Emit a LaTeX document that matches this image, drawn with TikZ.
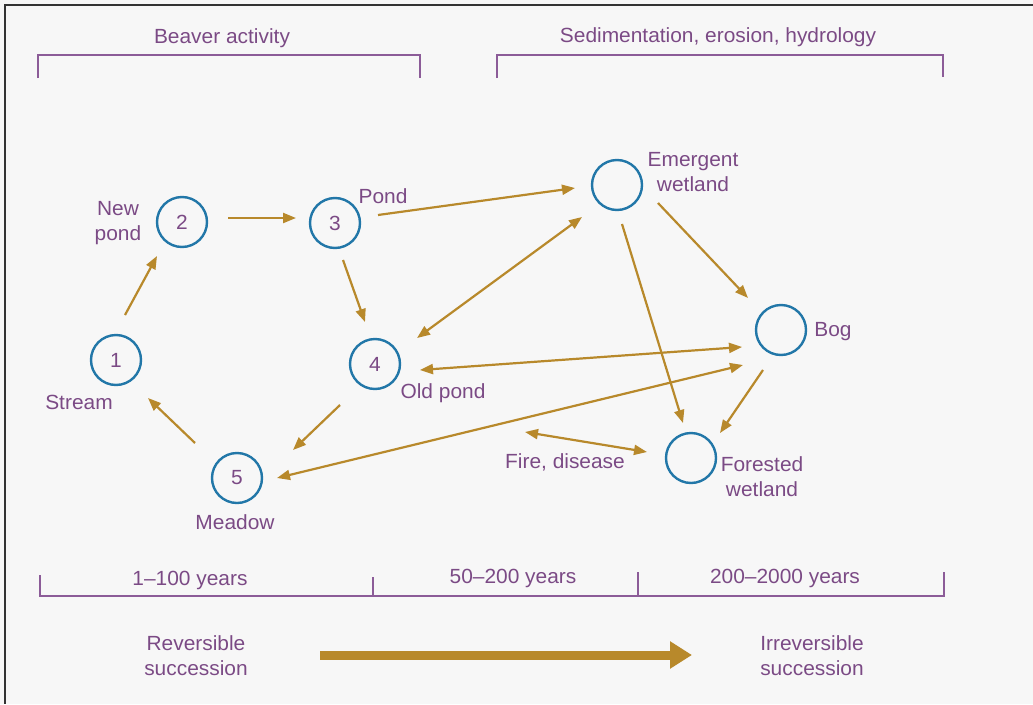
\documentclass[tikz,border=0pt]{standalone}
\usepackage{fontspec}
\setmainfont[FakeStretch=1.02]{Liberation Sans}
\usetikzlibrary{arrows.meta,calc}
\definecolor{txtpurple}{HTML}{7B4A85}
\definecolor{brpurple}{HTML}{8C5C98}
\definecolor{cblue}{HTML}{2277A8}
\definecolor{agold}{HTML}{B8892B}
\definecolor{bgc}{HTML}{F7F7F7}
\begin{document}
\begin{tikzpicture}[x=1pt,y=-1pt,
  every node/.style={font=\fontsize{20.5}{25}\selectfont, text=txtpurple, inner sep=0pt},
  stage/.style={circle, draw=cblue, line width=2.4pt, minimum size=50pt},
  lbl/.style={align=center},
  br/.style={draw=brpurple, line width=1.8pt},
  arr/.style={draw=agold, line width=2.2pt, -{Triangle[length=13pt,width=10pt]}},
  darr/.style={draw=agold, line width=2.2pt, {Triangle[length=13pt,width=10pt]}-{Triangle[length=13pt,width=10pt]}},
  bigarr/.style={draw=agold, line width=9pt, -{Triangle[length=22pt,width=26pt]}}]
\useasboundingbox (0,0) rectangle (1033,704);
\fill[bgc] (0,0) rectangle (1033,704);
\draw[line width=2.5pt, black!80] (1033,5) -- (5,5) -- (5,704);

% top brackets
\draw[br] (38,78) -- (38,55) -- (420,55) -- (420,78);
\draw[br] (497,78) -- (497,55) -- (943,55) -- (943,77);
\node[lbl] (beaver) at (222,38) {Beaver activity};
\node[lbl] (sed) at (718,37) {Sedimentation, erosion, hydrology};

% stage circles
\node[stage] (n1) at (116,360) {1};
\node[stage] (n2) at (182,222) {2};
\node[stage] (n3) at (335,223) {3};
\node[stage] (n4) at (375,364) {4};
\node[stage] (n5) at (237,478) {5};
\node[stage] (em) at (617,185) {};
\node[stage] (bog) at (781,330) {};
\node[stage] (fw) at (691,458) {};

% labels
\node[lbl] (lnew) at (118,223) {New\\pond};
\node[lbl] (lpond) at (383,196) {Pond};
\node[lbl] (lem) at (693,172) {Emergent\\wetland};
\node[lbl] (lbog) at (833,332) {Bog};
\node[lbl] (lstream) at (79,402) {Stream};
\node[lbl] (lold) at (443,393) {Old pond};
\node[lbl] (lfire) at (565,462) {Fire, disease};
\node[lbl] (lfw) at (762,477) {Forested\\wetland};
\node[lbl] (lmeadow) at (235,522) {Meadow};

% connectors
\draw[arr] ($(n1)+(9,-45)$) -- ($(n2)+(-25,34)$);
\draw[arr] ($(n2)+(46,-4)$) -- ($(n3)+(-39,-5)$);
\draw[arr] ($(n3)+(43,-8)$) -- ($(em)+(-42,3)$);
\draw[arr] ($(n3)+(8,37)$) -- ($(n4)+(-10,-42)$);
\draw[darr] ($(n4)+(42,-26)$) -- ($(em)+(-35,32)$);
\draw[darr] ($(n4)+(45,6)$) -- ($(bog)+(-39,17)$);
\draw[darr] ($(n5)+(40,0)$) -- ($(bog)+(-38,35)$);
\draw[arr] ($(n4)+(-35,41)$) -- ($(n5)+(56,-28)$);
\draw[arr] ($(n5)+(-42,-35)$) -- ($(n1)+(32,38)$);
\draw[arr] ($(em)+(41,18)$) -- ($(bog)+(-33,-32)$);
\draw[arr] ($(em)+(5,39)$) -- ($(fw)+(-8,-35)$);
\draw[arr] ($(bog)+(-18,40)$) -- ($(fw)+(29,-25)$);
\coordinate (fireend) at (525,432);
\draw[darr] (fireend) -- ($(fw)+(-44,-6)$);

% time scale
\draw[br] (40,575) -- (40,596) -- (944,596) -- (944,572);
\draw[br] (373,577) -- (373,596);
\draw[br] (638,572) -- (638,596);
\node[lbl] (t1) at (190,580) {1–100 years};
\node[lbl] (t2) at (513,578) {50–200 years};
\node[lbl] (t3) at (785,578) {200–2000 years};

% succession
\node[lbl] (rev) at (196,656) {Reversible\\succession};
\node[lbl] (irr) at (812,656) {Irreversible\\succession};
\coordinate (bs) at (320,655);
\coordinate (be) at (692,655);
\draw[bigarr] (bs) -- (be);
\end{tikzpicture}
\end{document}
